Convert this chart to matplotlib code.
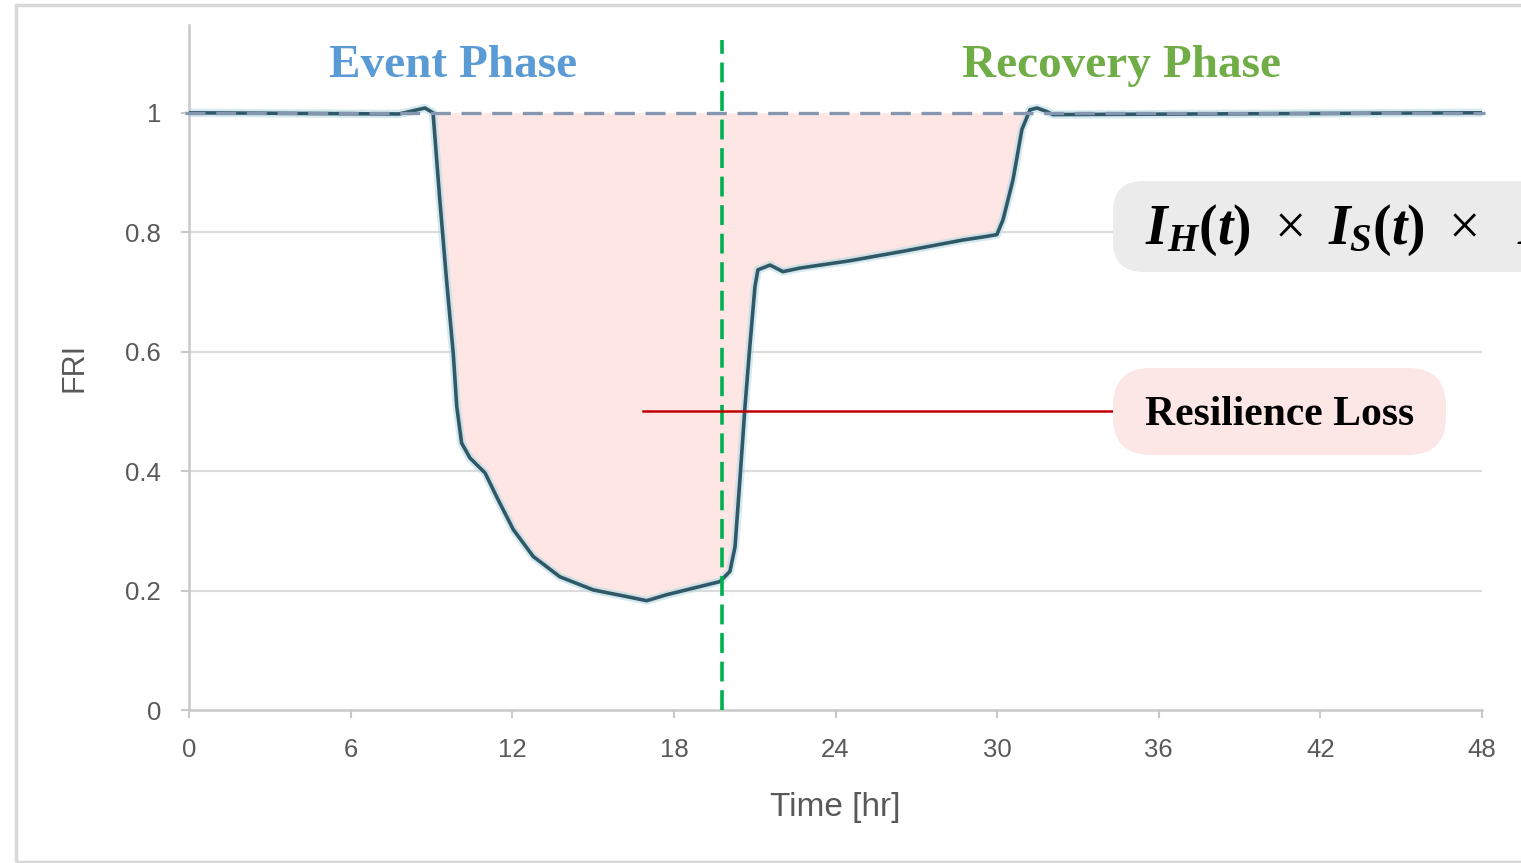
import matplotlib
matplotlib.use("Agg")
import matplotlib.pyplot as plt
from matplotlib.patches import FancyBboxPatch, Rectangle

# FRI curve (time in hours, FRI value)
time_hr = [0, 7.8, 8.76, 9.06, 9.3, 9.56, 9.81, 9.94, 10.12, 10.43, 10.99, 11.42,
           12.04, 12.78, 13.77, 15.01, 16.24, 16.99, 17.73, 18.72, 19.71,
           20.08, 20.27, 20.45, 20.64, 20.82, 21.01, 21.12, 21.57, 22.05,
           22.68, 24.5, 26.5, 28.73, 29.47, 29.99, 30.22, 30.59, 30.92,
           31.22, 31.48, 31.85, 32.07, 48]
fri = [1.0, 0.998, 1.008, 1.0, 0.86, 0.72, 0.597, 0.508, 0.447, 0.422, 0.397, 0.357,
       0.302, 0.257, 0.223, 0.201, 0.190, 0.183, 0.193, 0.204, 0.215,
       0.232, 0.273, 0.385, 0.508, 0.609, 0.709, 0.737, 0.745, 0.734,
       0.740, 0.752, 0.768, 0.787, 0.792, 0.796, 0.821, 0.888, 0.972,
       1.005, 1.008, 1.002, 0.997, 1.0]

baseline_fri = 1.0
phase_split_hr = 19.8
loss_start, loss_end = 9.06, 31.3

x_ticks = [0, 6, 12, 18, 24, 30, 36, 42, 48]
y_ticks = [0, 0.2, 0.4, 0.6, 0.8, 1.0]
y_tick_labels = ["0", "0.2", "0.4", "0.6", "0.8", "1"]

W, H = 1521, 863


def fx(px):
    return px / W


def fy(py):
    return 1 - py / H


plt.rcParams['font.family'] = ['Liberation Sans', 'DejaVu Sans']
plt.rcParams['mathtext.fontset'] = 'custom'
plt.rcParams['mathtext.it'] = 'Liberation Serif:italic:bold'
plt.rcParams['mathtext.rm'] = 'Liberation Serif'
plt.rcParams['mathtext.bf'] = 'Liberation Serif:bold'

fig = plt.figure(figsize=(15.21, 8.63), dpi=100)

# screenshot frame
fig.patches.append(Rectangle((fx(16), fy(862)), 1.2, fy(5) - fy(862),
                             transform=fig.transFigure, fill=False,
                             edgecolor='#d8d8d8', lw=2.5, zorder=0))

ax = fig.add_axes([fx(189), fy(710), fx(1293), fy(25) - fy(710)])
ax.set_xlim(0, 48)
ax.set_ylim(0, 1.147)

for s in ['top', 'right']:
    ax.spines[s].set_visible(False)
for s in ['left', 'bottom']:
    ax.spines[s].set_color('#c8c8c8')
    ax.spines[s].set_linewidth(1.8)

for g in y_ticks[1:-1]:
    ax.axhline(g, color='#dcdcdc', lw=1.6, zorder=0)

# resilience loss area
ax.fill_between(time_hr, fri, baseline_fri,
                where=[loss_start <= t <= loss_end for t in time_hr],
                interpolate=True, color='#fde6e4', lw=0, zorder=1)

# curve with soft halo
ax.plot(time_hr, fri, color='#b9dbe4', lw=6, alpha=0.6, zorder=2,
        solid_joinstyle='round', solid_capstyle='round')
ax.plot(time_hr, fri, color='#2f5868', lw=2.6, zorder=3,
        solid_joinstyle='round', solid_capstyle='round')

# reference line at FRI = 1
ax.plot([-0.15, 48.1], [baseline_fri, baseline_fri], color='#8596b0', lw=2.4,
        dashes=(6, 3.2), zorder=4, clip_on=False)

# phase separator
ax.plot([phase_split_hr, phase_split_hr], [0, 1.122], color='#00b050', lw=2.6,
        dashes=(5.5, 2.4), zorder=5, clip_on=False)

ax.set_xticks(x_ticks)
ax.set_yticks(y_ticks)
ax.set_yticklabels(y_tick_labels)
ax.tick_params(axis='both', colors='#c8c8c8', labelcolor='#595959',
               labelsize=18.5, length=6, width=1.5)
ax.tick_params(axis='x', pad=14)
ax.tick_params(axis='y', pad=14)

ax.set_xlabel('Time [hr]', fontsize=24, color='#595959', labelpad=22)
ax.set_ylabel('FRI', fontsize=22, color='#595959', labelpad=26)

# phase titles
ax.text(9.8, 1.078, 'Event Phase', fontsize=34, fontweight='bold',
        family='Liberation Serif', color='#5b9bd5', ha='center', va='center',
        clip_on=False)
ax.text(34.6, 1.078, 'Recovery Phase', fontsize=34, fontweight='bold',
        family='Liberation Serif', color='#70ad47', ha='center', va='center',
        clip_on=False)

# pointer to resilience loss box
ax.plot([16.86, 34.3], [0.5, 0.5], color='#c00000', lw=1.8, zorder=6,
        clip_on=False)

# resilience loss box
fig.patches.append(FancyBboxPatch((fx(1113), fy(455)), fx(1446 - 1113),
                                  fy(368) - fy(455),
                                  boxstyle='round,pad=0,rounding_size=0.025',
                                  mutation_aspect=W / H,
                                  transform=fig.transFigure,
                                  facecolor='#fde6e6', edgecolor='none',
                                  zorder=7))
fig.text(fx(1280), fy(415), 'Resilience Loss', fontsize=30, fontweight='bold',
         family='Liberation Serif', color='black', ha='center', va='center',
         zorder=8)

# formula box (cut off at the right edge)
fig.patches.append(FancyBboxPatch((fx(1113), fy(272)), fx(1600 - 1113),
                                  fy(181) - fy(272),
                                  boxstyle='round,pad=0,rounding_size=0.02',
                                  mutation_aspect=W / H,
                                  transform=fig.transFigure,
                                  facecolor='#ebebeb', edgecolor='none',
                                  zorder=7))
fig.text(fx(1145), fy(230),
         r'$I_H\mathbf{(}t\mathbf{)}\ \times\ I_S\mathbf{(}t\mathbf{)}\ \times\ \ I_E\mathbf{(}t\mathbf{)}$',
         fontsize=40, color='black', ha='left', va='center', zorder=8)

fig.savefig('out.png', dpi=100)
